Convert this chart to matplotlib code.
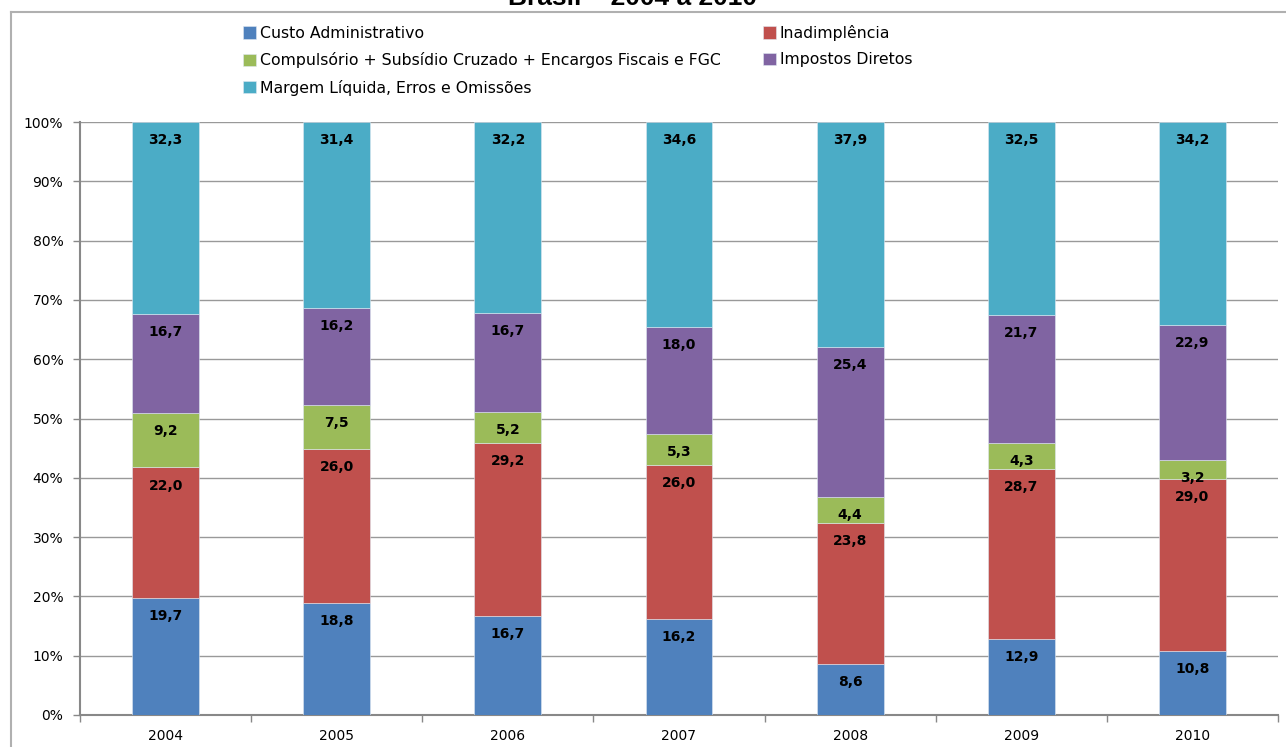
import numpy as np
import matplotlib
matplotlib.use("Agg")
import matplotlib.pyplot as plt
from matplotlib.lines import Line2D
from matplotlib.ticker import FixedLocator, FuncFormatter

# dados (% do spread)
anos = ["2004", "2005", "2006", "2007", "2008", "2009", "2010"]
custo_adm = [19.7, 18.8, 16.7, 16.2, 8.6, 12.9, 10.8]
inadimplencia = [22.0, 26.0, 29.2, 26.0, 23.8, 28.7, 29.0]
compulsorio = [9.2, 7.5, 5.2, 5.3, 4.4, 4.3, 3.2]
impostos = [16.7, 16.2, 16.7, 18.0, 25.4, 21.7, 22.9]
margem = [32.3, 31.4, 32.2, 34.6, 37.9, 32.5, 34.2]

series = [
    ("Custo Administrativo", custo_adm, "#4F81BD"),
    ("Inadimplência", inadimplencia, "#C0504D"),
    ("Compulsório + Subsídio Cruzado + Encargos Fiscais e FGC", compulsorio, "#9BBB59"),
    ("Impostos Diretos", impostos, "#8064A2"),
    ("Margem Líquida, Erros e Omissões", margem, "#4BACC6"),
]

plt.rcParams['font.family'] = ['DejaVu Sans']

W, H = 1286, 747
fig = plt.figure(figsize=(W / 100, H / 100), dpi=100)
ax = fig.add_axes([80 / W, 1 - 715 / H, (1278 - 80) / W, (715 - 122) / H])

x = np.arange(len(anos))
total = np.sum([s[1] for s in series], axis=0)
base = np.zeros(len(anos))
handles = {}
for nome, vals, cor in series:
    pct = np.array(vals) / total * 100
    b = ax.bar(x, pct, 0.39, bottom=base, color=cor, edgecolor="#dfe8f2",
               linewidth=0.4, label=nome, zorder=3)
    handles[nome] = b
    for xi, top, v in zip(x, base + pct, vals):
        ax.annotate(f"{v:.1f}".replace(".", ","), (xi, top), xytext=(0, -13),
                    textcoords="offset points", ha="center", va="center",
                    fontsize=10, fontweight="bold", color="black", zorder=4)
    base = base + pct

ax.set_xlim(-0.5, len(anos) - 0.5)
ax.set_ylim(0, 100)
ax.set_yticks(np.arange(0, 101, 10))
ax.yaxis.set_major_formatter(FuncFormatter(lambda v, p: f"{v:.0f}%"))
ax.set_xticks(x)
ax.set_xticklabels(anos)
ax.xaxis.set_minor_locator(FixedLocator(np.arange(-0.5, len(anos), 1.0)))
ax.tick_params(axis="x", which="major", length=0, labelsize=10, pad=10)
ax.tick_params(axis="x", which="minor", length=5, color="#888888", width=1)
ax.tick_params(axis="y", length=5, color="#888888", width=1, labelsize=10, pad=7)

ax.grid(axis="y", color="#999999", linewidth=1, zorder=0)
for s in ["top", "right"]:
    ax.spines[s].set_visible(False)
for s in ["left", "bottom"]:
    ax.spines[s].set_color("#888888")
    ax.spines[s].set_linewidth(1.5)

# legenda em duas colunas (ordem por coluna)
ordem = ["Custo Administrativo", "Compulsório + Subsídio Cruzado + Encargos Fiscais e FGC",
         "Margem Líquida, Erros e Omissões", "Inadimplência", "Impostos Diretos"]
fig.legend([handles[n] for n in ordem], ordem, ncol=2, loc="upper left",
           bbox_to_anchor=(243 / W, 1 - 25 / H), frameon=False, fontsize=11.3,
           borderpad=0, borderaxespad=0, handlelength=0.85, handleheight=0.85,
           handletextpad=0.25, labelspacing=0.72, columnspacing=2.65)

# título cortado no topo
fig.text(633 / W, 1 - 5 / H, "Brasil – 2004 a 2010", ha="center", va="baseline",
         fontsize=19, fontweight="bold", family="Liberation Sans")

# moldura do gráfico
fig.add_artist(Line2D([11 / W, 1], [1 - 12 / H, 1 - 12 / H], color="#b0b0b0", lw=1.5))
fig.add_artist(Line2D([11 / W, 11 / W], [0, 1 - 12 / H], color="#b0b0b0", lw=1.5))

fig.savefig("out.png", dpi=100)
